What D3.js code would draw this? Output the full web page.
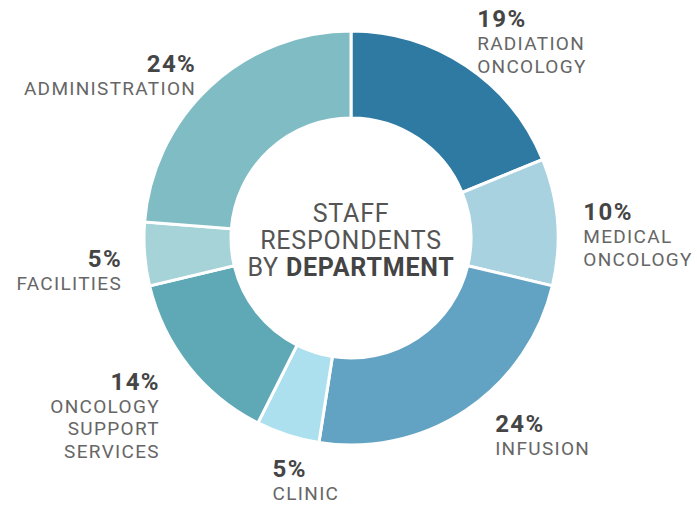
<!DOCTYPE html>
<html>
<head>
<meta charset="utf-8">
<script src="https://cdn.jsdelivr.net/npm/d3@7"></script>
<style>
  body { margin: 0; background: #fff; }
  text { font-family: Roboto, "Noto Sans", sans-serif; }
</style>
</head>
<body>
<script>
// Data
const departments = ["Radiation Oncology", "Medical Oncology", "Infusion", "Clinic",
                     "Oncology Support Services", "Facilities", "Administration"];
const shares = [19, 10, 24, 5, 14, 5, 24];
const labelLines = [["RADIATION", "ONCOLOGY"], ["MEDICAL", "ONCOLOGY"], ["INFUSION"], ["CLINIC"],
                    ["ONCOLOGY", "SUPPORT", "SERVICES"], ["FACILITIES"], ["ADMINISTRATION"]];
const sliceColors = ["#2f7aa3", "#a9d2e0", "#62a3c4", "#ade0ee", "#5fa8b6", "#a6d3d8", "#7fbcc4"];
const centerTitle = ["STAFF", "RESPONDENTS"];

const width = 697, height = 507;
const cx = 351, cy = 238;
const outerR = 207, innerR = 120, labelR = 230;

// hand nudges for label blocks (designer placed them)
const nudge = [[-2, -20], [3, 0], [16, 3], [-8, 20], [-12, 9], [-1, 11], [0, 3]];

const svg = d3.select("body").append("svg")
    .attr("width", width)
    .attr("height", height);

const g = svg.append("g").attr("transform", `translate(${cx},${cy})`);

const color = d3.scaleOrdinal().domain(departments).range(sliceColors);

const pie = d3.pie().sort(null).value(d => d.value);
const arcs = pie(departments.map((name, i) => ({name, value: shares[i], i})));

const arc = d3.arc().innerRadius(innerR).outerRadius(outerR);
const labelArc = d3.arc().innerRadius(labelR).outerRadius(labelR);

g.selectAll("path.slice")
    .data(arcs)
    .join("path")
    .attr("class", "slice")
    .attr("d", arc)
    .attr("fill", d => color(d.data.name))
    .attr("stroke", "#fff")
    .attr("stroke-width", 3);

// labels
const labels = g.selectAll("g.label")
    .data(arcs)
    .join("g")
    .attr("class", "label")
    .attr("transform", d => {
        const [x, y] = labelArc.centroid(d);
        const [dx, dy] = nudge[d.data.i];
        return `translate(${x + dx},${y + dy})`;
    });

labels.each(function(d) {
    const mid = (d.startAngle + d.endAngle) / 2;
    const anchor = mid < Math.PI * 1.15 ? "start" : "end";
    const sel = d3.select(this);
    // letter-spacing adds a trailing gap, push end-anchored text back
    const pctLs = 1.4, lblLs = 1.3;
    sel.append("text")
        .attr("text-anchor", anchor)
        .attr("dx", anchor === "end" ? pctLs : 0)
        .attr("font-size", 24)
        .attr("font-weight", 700)
        .attr("letter-spacing", pctLs)
        .attr("fill", "#454545")
        .text(d.data.value + "%");
    labelLines[d.data.i].forEach((line, j) => {
        sel.append("text")
            .attr("text-anchor", anchor)
            .attr("dx", anchor === "end" ? lblLs : 0)
            .attr("y", 23 + j * 22.5)
            .attr("font-size", 19)
            .attr("letter-spacing", lblLs)
            .attr("fill", "#666")
            .text(line);
    });
});

// center title
const title = g.append("text")
    .attr("text-anchor", "middle")
    .attr("font-size", 25)
    .attr("letter-spacing", 0.8)
    .attr("fill", "#555");
centerTitle.forEach((t, j) => {
    title.append("tspan").attr("x", 0).attr("y", -16 + j * 27).text(t);
});
const last = title.append("tspan").attr("x", 0).attr("y", -16 + 2 * 27);
last.append("tspan").text("BY ");
last.append("tspan").attr("font-weight", 700).attr("fill", "#444").text("DEPARTMENT");
</script>
</body>
</html>
